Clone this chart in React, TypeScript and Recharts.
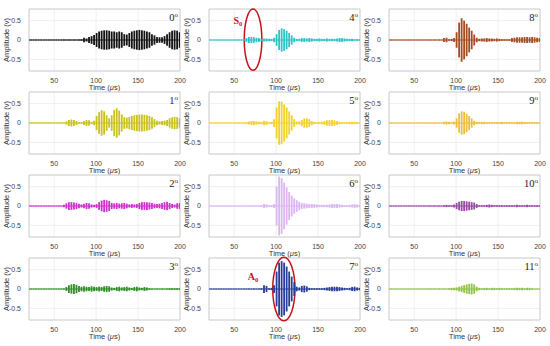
import React from "react";
import {
  ComposedChart,
  Bar,
  XAxis,
  YAxis,
  CartesianGrid,
  ReferenceArea,
  ReferenceLine,
  ReferenceDot,
  Label,
} from "recharts";

const times = [
  20, 23, 26, 29, 32, 35, 38, 41, 44, 47, 50, 53, 56, 59, 62, 65, 68, 71, 74, 77,
  80, 83, 86, 89, 92, 95, 98, 101, 104, 107, 110, 113, 116, 119, 122, 125, 128,
  131, 134, 137, 140, 143, 146, 149, 152, 155, 158, 161, 164, 167, 170, 173, 176,
  179, 182, 185, 188, 191, 194, 197, 200,
];

const xTicks = [50, 100, 150, 200];
const yTicks = [-0.5, 0, 0.5];

// envelope amplitude (V) per angle
const amp0 = [
  0.01, 0.01, 0.01, 0.01, 0.01, 0.01, 0.01, 0.01, 0.01, 0.01,
  0.01, 0.01, 0.01, 0.01, 0.01, 0.01, 0.01, 0.01, 0.01, 0.01,
  0.01, 0.02, 0.06, 0.04, 0.08, 0.1, 0.13, 0.18, 0.22, 0.24,
  0.25, 0.25, 0.24, 0.22, 0.22, 0.2, 0.22, 0.2, 0.15, 0.14,
  0.18, 0.22, 0.24, 0.25, 0.26, 0.25, 0.24, 0.22, 0.2, 0.15,
  0.12, 0.08, 0.07, 0.07, 0.1, 0.15, 0.2, 0.24, 0.25, 0.24, 0.2,
];
const amp1 = [
  0.01, 0.01, 0.01, 0.01, 0.01, 0.01, 0.01, 0.01, 0.01, 0.01,
  0.01, 0.01, 0.01, 0.01, 0.01, 0.04, 0.08, 0.09, 0.08, 0.05,
  0.02, 0.02, 0.05, 0.08, 0.07, 0.03, 0.06, 0.18, 0.28, 0.33,
  0.3, 0.2, 0.12, 0.2, 0.34, 0.38, 0.32, 0.22, 0.15, 0.14,
  0.16, 0.18, 0.2, 0.21, 0.22, 0.22, 0.21, 0.2, 0.18, 0.15,
  0.1, 0.06, 0.04, 0.05, 0.06, 0.08, 0.12, 0.15, 0.16, 0.15, 0.12,
];
const amp2 = [
  0.01, 0.01, 0.01, 0.01, 0.01, 0.01, 0.01, 0.01, 0.01, 0.01,
  0.01, 0.01, 0.01, 0.01, 0.03, 0.07, 0.1, 0.1, 0.09, 0.08,
  0.06, 0.04, 0.06, 0.08, 0.07, 0.04, 0.03, 0.05, 0.1, 0.14,
  0.16, 0.15, 0.13, 0.08, 0.07, 0.08, 0.06, 0.07, 0.08, 0.06,
  0.04, 0.05, 0.04, 0.05, 0.08, 0.1, 0.1, 0.1, 0.09, 0.08,
  0.06, 0.05, 0.06, 0.08, 0.1, 0.11, 0.08, 0.05, 0.04, 0.07, 0.08,
];
const amp3 = [
  0.01, 0.01, 0.01, 0.01, 0.01, 0.01, 0.01, 0.01, 0.01, 0.01,
  0.01, 0.01, 0.01, 0.01, 0.01, 0.05, 0.1, 0.12, 0.13, 0.11,
  0.08, 0.06, 0.07, 0.06, 0.05, 0.07, 0.06, 0.05, 0.06, 0.05,
  0.07, 0.08, 0.07, 0.04, 0.03, 0.05, 0.06, 0.04, 0.05, 0.06,
  0.04, 0.03, 0.05, 0.06, 0.04, 0.03, 0.05, 0.04, 0.02, 0.01,
  0.01, 0.01, 0.01, 0.01, 0.01, 0.01, 0.02, 0.02, 0.02, 0.02, 0.02,
];
const amp4 = [
  0.01, 0.01, 0.01, 0.01, 0.01, 0.01, 0.01, 0.01, 0.01, 0.01,
  0.01, 0.01, 0.01, 0.01, 0.02, 0.05, 0.08, 0.08, 0.07, 0.06,
  0.05, 0.03, 0.04, 0.04, 0.03, 0.03, 0.06, 0.15, 0.26, 0.3,
  0.28, 0.24, 0.18, 0.12, 0.06, 0.03, 0.03, 0.05, 0.05, 0.04,
  0.05, 0.04, 0.03, 0.03, 0.04, 0.03, 0.03, 0.04, 0.03, 0.03,
  0.03, 0.04, 0.05, 0.05, 0.04, 0.03, 0.03, 0.03, 0.02, 0.02, 0.02,
];
const amp5 = [
  0.01, 0.01, 0.01, 0.01, 0.01, 0.01, 0.01, 0.01, 0.01, 0.01,
  0.01, 0.01, 0.01, 0.01, 0.01, 0.02, 0.04, 0.05, 0.05, 0.04,
  0.03, 0.03, 0.06, 0.05, 0.02, 0.03, 0.1, 0.4, 0.56, 0.55,
  0.48, 0.4, 0.3, 0.2, 0.1, 0.04, 0.04, 0.08, 0.12, 0.12,
  0.1, 0.05, 0.03, 0.02, 0.02, 0.03, 0.05, 0.07, 0.08, 0.08,
  0.07, 0.05, 0.03, 0.02, 0.02, 0.02, 0.03, 0.03, 0.03, 0.02, 0.02,
];
const amp6 = [
  0.01, 0.01, 0.01, 0.01, 0.01, 0.01, 0.01, 0.01, 0.01, 0.01,
  0.01, 0.01, 0.01, 0.01, 0.01, 0.01, 0.01, 0.01, 0.01, 0.01,
  0.01, 0.02, 0.05, 0.04, 0.02, 0.02, 0.05, 0.5, 0.76, 0.72,
  0.6, 0.48, 0.36, 0.27, 0.2, 0.15, 0.11, 0.08, 0.07, 0.06,
  0.05, 0.05, 0.05, 0.04, 0.03, 0.03, 0.03, 0.03, 0.04, 0.05,
  0.05, 0.05, 0.04, 0.03, 0.02, 0.02, 0.03, 0.04, 0.05, 0.04, 0.03,
];
const amp7 = [
  0.01, 0.01, 0.01, 0.01, 0.01, 0.01, 0.01, 0.01, 0.01, 0.01,
  0.01, 0.01, 0.01, 0.01, 0.01, 0.01, 0.01, 0.01, 0.01, 0.01,
  0.01, 0.02, 0.1, 0.08, 0.02, 0.03, 0.1, 0.45, 0.68, 0.72,
  0.68, 0.58, 0.45, 0.32, 0.18, 0.06, 0.04, 0.08, 0.09, 0.07,
  0.03, 0.02, 0.02, 0.02, 0.02, 0.02, 0.03, 0.04, 0.05, 0.06,
  0.06, 0.06, 0.05, 0.04, 0.03, 0.02, 0.03, 0.05, 0.06, 0.04, 0.03,
];
const amp8 = [
  0.01, 0.01, 0.01, 0.01, 0.01, 0.01, 0.01, 0.01, 0.01, 0.01,
  0.01, 0.01, 0.01, 0.01, 0.01, 0.01, 0.01, 0.01, 0.01, 0.01,
  0.01, 0.01, 0.05, 0.06, 0.02, 0.03, 0.05, 0.2, 0.45, 0.56,
  0.5, 0.42, 0.32, 0.24, 0.14, 0.06, 0.03, 0.04, 0.04, 0.05,
  0.04, 0.04, 0.03, 0.04, 0.03, 0.02, 0.02, 0.02, 0.02, 0.05,
  0.06, 0.07, 0.07, 0.07, 0.08, 0.08, 0.07, 0.08, 0.07, 0.06, 0.05,
];
const amp9 = [
  0.01, 0.01, 0.01, 0.01, 0.01, 0.01, 0.01, 0.01, 0.01, 0.01,
  0.01, 0.01, 0.01, 0.01, 0.01, 0.01, 0.01, 0.01, 0.01, 0.01,
  0.01, 0.01, 0.03, 0.04, 0.03, 0.02, 0.04, 0.12, 0.25, 0.3,
  0.29, 0.24, 0.18, 0.12, 0.06, 0.03, 0.02, 0.03, 0.03, 0.02,
  0.02, 0.02, 0.02, 0.02, 0.02, 0.03, 0.02, 0.02, 0.02, 0.02,
  0.02, 0.03, 0.03, 0.03, 0.03, 0.02, 0.02, 0.02, 0.02, 0.02, 0.02,
];
const amp10 = [
  0.01, 0.01, 0.01, 0.01, 0.01, 0.01, 0.01, 0.01, 0.01, 0.01,
  0.01, 0.01, 0.01, 0.01, 0.01, 0.01, 0.01, 0.01, 0.01, 0.01,
  0.01, 0.01, 0.02, 0.03, 0.02, 0.02, 0.04, 0.08, 0.11, 0.13,
  0.13, 0.12, 0.11, 0.1, 0.09, 0.05, 0.02, 0.02, 0.02, 0.03,
  0.04, 0.03, 0.02, 0.02, 0.02, 0.02, 0.02, 0.02, 0.02, 0.02,
  0.02, 0.03, 0.02, 0.02, 0.02, 0.03, 0.02, 0.02, 0.02, 0.02, 0.02,
];
const amp11 = [
  0.01, 0.01, 0.01, 0.01, 0.01, 0.01, 0.01, 0.01, 0.01, 0.01,
  0.01, 0.01, 0.01, 0.01, 0.01, 0.01, 0.01, 0.01, 0.01, 0.01,
  0.01, 0.01, 0.01, 0.01, 0.02, 0.03, 0.03, 0.04, 0.06, 0.08,
  0.1, 0.12, 0.13, 0.14, 0.12, 0.06, 0.03, 0.02, 0.03, 0.03,
  0.02, 0.03, 0.03, 0.02, 0.03, 0.02, 0.02, 0.02, 0.02, 0.02,
  0.03, 0.03, 0.03, 0.03, 0.02, 0.03, 0.03, 0.02, 0.01, 0.01, 0.01,
];

const amps = [amp0, amp1, amp2, amp3, amp4, amp5, amp6, amp7, amp8, amp9, amp10, amp11];
const colors = [
  "#141414", "#c9c21c", "#cf30cf", "#2f8f26",
  "#2cc3c6", "#f4d02a", "#dbb6f2", "#293c98",
  "#a54d20", "#efbd3c", "#9a47a6", "#8fc247",
];

const rowTops = [9, 92, 175, 258];
const annoRed = "#c4121a";
const serif = "'Liberation Serif', 'Times New Roman', serif";

const DegLabel = (props: any) => {
  const { viewBox, deg } = props;
  if (!viewBox) return null;
  return (
    <text
      x={viewBox.x + viewBox.width - 2}
      y={viewBox.y + 12}
      textAnchor="end"
      fontFamily={serif}
      fontSize={10.5}
      fill="#222"
    >
      {deg}
      <tspan fontSize={7} dy={-4}>o</tspan>
    </text>
  );
};

const YLabel = (props: any) => {
  const { viewBox } = props;
  if (!viewBox) return null;
  const x = viewBox.x + 6;
  const y = viewBox.y + viewBox.height / 2;
  return (
    <text x={x} y={y} transform={`rotate(-90 ${x} ${y})`} textAnchor="middle" dominantBaseline="central" fontSize={7.5} fill="#333">
      Amplitude (v)
    </text>
  );
};

const XLabel = (props: any) => {
  const { viewBox } = props;
  if (!viewBox) return null;
  return (
    <text x={viewBox.x + viewBox.width / 2} y={viewBox.y + 19} textAnchor="middle" fontSize={7.5} fill="#333">
      Time (<tspan fontStyle="italic">μ</tspan>s)
    </text>
  );
};

const ellipse = (p: any) => (
  <ellipse
    cx={p.x + p.width / 2}
    cy={p.y + p.height / 2}
    rx={p.width / 2}
    ry={p.height / 2}
    fill="none"
    stroke={annoRed}
    strokeWidth={1.5}
  />
);

const modeText = (letter: string) => (p: any) => (
  <text x={p.cx} y={p.cy} textAnchor="middle" dominantBaseline="central" fontFamily={serif} fontWeight="bold" fontSize={10} fill={annoRed}>
    {letter}
    <tspan fontSize={6.5} dy={2}>0</tspan>
  </text>
);

function Panel({ angle, left, top }: { angle: number; left: number; top: number }) {
  const amp = amps[angle];
  const color = colors[angle];
  const data = times.map((t, i) => ({ t, range: [-amp[i], amp[i]] }));
  return (
    <div style={{ position: "absolute", left, top }}>
      <ComposedChart width={190} height={95} data={data} margin={{ top: 9, right: 10, left: 0, bottom: 0 }}>
        <CartesianGrid stroke="#ebebeb" strokeWidth={0.8} />
        <XAxis
          type="number"
          dataKey="t"
          domain={[20, 200]}
          ticks={xTicks}
          interval={0}
          allowDataOverflow
          tick={{ fontSize: 7, fill: "#444" }}
          tickLine={false}
          axisLine={false}
          tickMargin={1}
          height={24}
        >
          <Label content={<XLabel />} />
        </XAxis>
        <YAxis
          type="number"
          domain={[-0.8, 0.8]}
          ticks={yTicks}
          interval={0}
          allowDataOverflow
          tick={{ fontSize: 7, fill: "#444" }}
          tickLine={false}
          axisLine={false}
          tickMargin={2}
          width={29}
        >
          <Label content={<YLabel />} />
        </YAxis>
        <ReferenceLine y={0} stroke={color} strokeWidth={0.9} />
        <Bar dataKey="range" fill={color} barSize={1.8} isAnimationActive={false} />
        <ReferenceArea
          x1={20}
          x2={200}
          y1={-0.8}
          y2={0.8}
          fill="none"
          stroke="#c6c6c6"
          strokeWidth={0.8}
          label={<DegLabel deg={String(angle)} />}
        />
        {angle === 4 && (
          <ReferenceArea x1={62} x2={83} y1={-0.78} y2={0.8} ifOverflow="visible" shape={ellipse} />
        )}
        {angle === 4 && <ReferenceDot x={54.5} y={0.5} r={0} ifOverflow="visible" shape={modeText("S")} />}
        {angle === 7 && (
          <ReferenceArea x1={96} x2={122.5} y1={-0.82} y2={0.82} ifOverflow="visible" shape={ellipse} />
        )}
        {angle === 7 && <ReferenceDot x={72.5} y={0.32} r={0} ifOverflow="visible" shape={modeText("A")} />}
      </ComposedChart>
    </div>
  );
}

export default function App() {
  const panels = [];
  for (let c = 0; c < 3; c++) {
    for (let r = 0; r < 4; r++) {
      panels.push(<Panel key={`${c}-${r}`} angle={c * 4 + r} left={c * 180} top={rowTops[r] - 9} />);
    }
  }
  return (
    <div
      style={{
        position: "absolute",
        left: 0,
        top: 0,
        width: 550,
        height: 346,
        background: "#fff",
        fontFamily: "'Liberation Sans', Arial, sans-serif",
        overflow: "hidden",
      }}
    >
      {panels}
    </div>
  );
}
